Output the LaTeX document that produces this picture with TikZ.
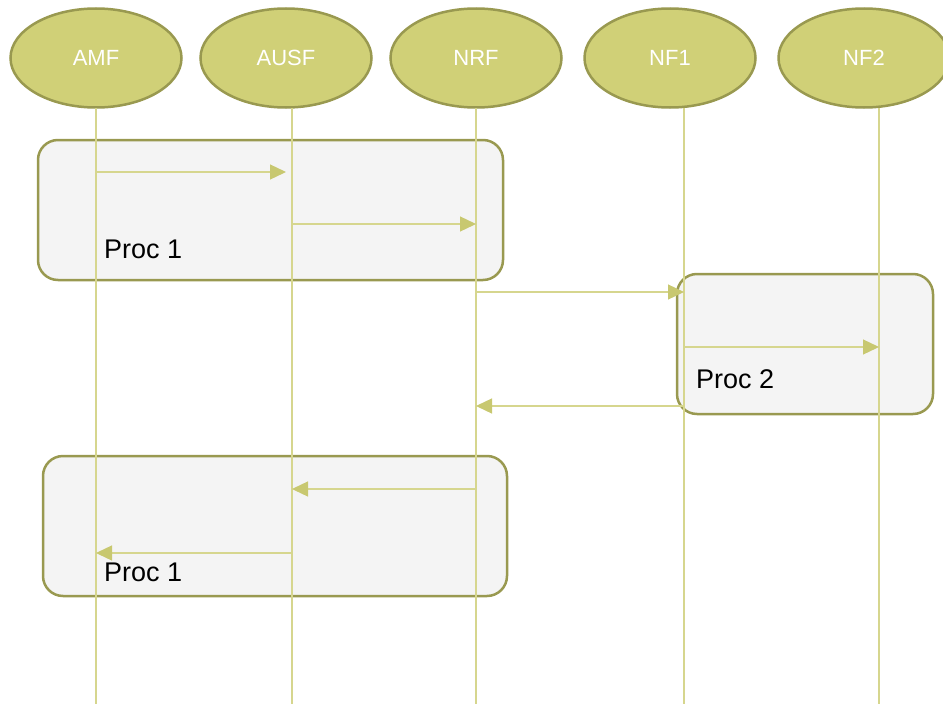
\documentclass[tikz,border=0pt]{standalone}
\usepackage{fontspec}
\setmainfont{Liberation Sans}
\usetikzlibrary{arrows.meta,shapes.geometric}
\definecolor{entfill}{HTML}{D0D077}
\definecolor{entline}{HTML}{999950}
\definecolor{lifeline}{HTML}{D6D68E}
\definecolor{arrowhd}{HTML}{C8C870}
\definecolor{procfill}{HTML}{F4F4F4}
\tikzset{
  entity/.style={ellipse, draw=entline, line width=2.5pt, fill=entfill,
    minimum width=171pt, minimum height=99pt, inner sep=0pt,
    text=white, font=\fontsize{22}{26}\selectfont},
  procbox/.style={draw=entline, line width=2.5pt, fill=procfill,
    rounded corners=20pt},
  proclabel/.style={anchor=base west, inner sep=0pt,
    font=\fontsize{27}{30}\selectfont},
  life/.style={draw=lifeline, line width=1.3pt},
  msg/.style={draw=lifeline, line width=1.3pt,
    -{Triangle[length=16pt,width=15pt,fill=arrowhd,color=arrowhd]}},
}
\begin{document}
\begin{tikzpicture}[x=1pt,y=-1pt]
\useasboundingbox (0,0) rectangle (943,704);

% procedure frames
\draw[procbox] (38,140) rectangle (503,280);
\draw[procbox] (677,274) rectangle (933,414);
\draw[procbox] (43,456) rectangle (507,596);

% entities
\node[entity] (amf)  at (96,58)  {AMF};
\node[entity] (ausf) at (286,58) {AUSF};
\node[entity] (nrf)  at (476,58) {NRF};
\node[entity] (nf1)  at (670,58) {NF1};
\node[entity] (nf2)  at (864,58) {NF2};

% lifeline ends
\coordinate (amfT)  at (96,108);  \coordinate (amfB)  at (96,704);
\coordinate (ausfT) at (292,108); \coordinate (ausfB) at (292,704);
\coordinate (nrfT)  at (476,108); \coordinate (nrfB)  at (476,704);
\coordinate (nf1T)  at (684,108); \coordinate (nf1B)  at (684,704);
\coordinate (nf2T)  at (879,108); \coordinate (nf2B)  at (879,704);
\draw[life] (amfT) -- (amfB);
\draw[life] (ausfT) -- (ausfB);
\draw[life] (nrfT) -- (nrfB);
\draw[life] (nf1T) -- (nf1B);
\draw[life] (nf2T) -- (nf2B);

% messages
\draw[msg, shorten >=6pt] (amfT |- 0,172) -- (ausfT |- 0,172);
\draw[msg] (ausfT |- 0,224) -- (nrfT |- 0,224);
\draw[msg] (nrfT |- 0,292) -- (nf1T |- 0,292);
\draw[msg] (nf1T |- 0,347) -- (nf2T |- 0,347);
\draw[msg] (nf1T |- 0,406) -- (nrfT |- 0,406);
\draw[msg] (nrfT |- 0,489) -- (ausfT |- 0,489);
\draw[msg] (ausfT |- 0,553) -- (amfT |- 0,553);

% frame labels
\node[proclabel] (p1a) at (104,258) {Proc 1};
\node[proclabel] (p2)  at (696,388) {Proc 2};
\node[proclabel] (p1b) at (104,581) {Proc 1};
\end{tikzpicture}
\end{document}
